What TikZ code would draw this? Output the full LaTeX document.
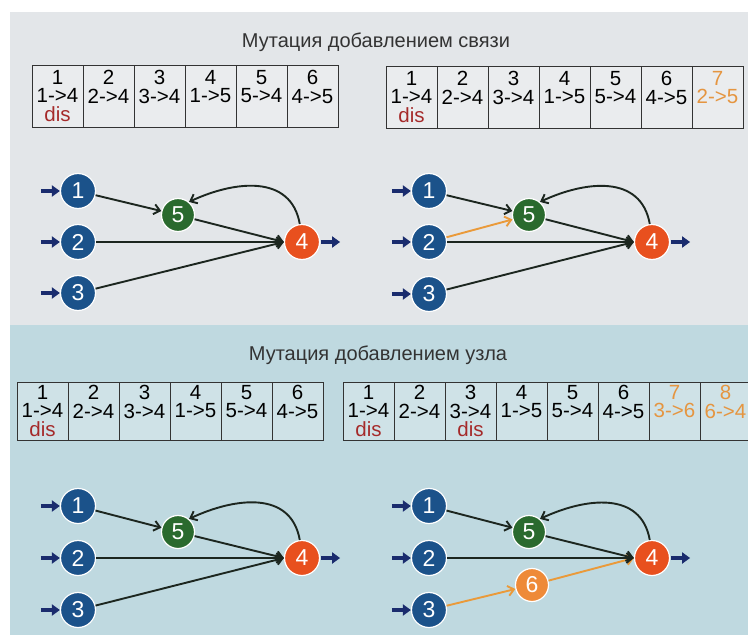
\documentclass[tikz,border=0pt]{standalone}
\usepackage{fontspec}
\setmainfont{Liberation Sans}
\usetikzlibrary{arrows.meta}
\definecolor{bgtop}{HTML}{E3E6E9}
\definecolor{bgbot}{HTML}{BFD9E0}
\definecolor{nblue}{HTML}{1B528A}
\definecolor{ngreen}{HTML}{2A6A2E}
\definecolor{nred}{HTML}{E8501E}
\definecolor{norange}{HTML}{EE8A38}
\definecolor{eorange}{HTML}{EA9A3A}
\definecolor{tor}{HTML}{E59540}
\definecolor{disred}{HTML}{A52A2A}
\definecolor{edgec}{HTML}{1C261F}
\definecolor{arrc}{HTML}{1A2C6E}
\newcommand\dis{\textcolor{disred}{dis}}
\newcommand\nodis{\phantom{dis}}
\tikzset{
 netnode/.style={circle, draw=white, line width=1.2pt, minimum size=35pt, inner sep=0pt, text=white, font=\fontsize{23}{23}\selectfont},
 bnode/.style={netnode, fill=nblue},
 gnode/.style={netnode, fill=ngreen, minimum size=33pt},
 rnode/.style={netnode, fill=nred},
 onode/.style={netnode, fill=norange, minimum size=33pt},
 conn/.style={draw=edgec, line width=1.9pt, -{Straight Barb[length=6pt,width=10pt]}},
 oconn/.style={conn, draw=eorange},
 ioarrow/.style={draw=arrc, line width=3.6pt, -{Triangle[length=8pt,width=11pt]}},
 cellbox/.style={draw=black!80, line width=1pt, fill=white, fill opacity=.25, text opacity=1, minimum width=51pt, inner sep=0pt, align=center, font=\fontsize{20.5}{18.5}\selectfont},
 topcell/.style={cellbox, minimum height=62pt},
 botcell/.style={cellbox, minimum height=58pt},
 title/.style={font=\fontsize{20}{20}\selectfont, text=black!80},
}
\begin{document}
\begin{tikzpicture}[x=1pt,y=-1pt]
\useasboundingbox (0,0) rectangle (748,635);
\fill[white] (0,0) rectangle (748,635);
\fill[bgtop] (10,12) rectangle (748,325);
\fill[bgbot] (10,325) rectangle (748,635);

% titles
\node[title] (t1) at (376,42) {Мутация добавлением связи};
\node[title] (t2) at (378,355) {Мутация добавлением узла};

% top-left table
\node[topcell] (a1) at (57.5,96) {1\\1->4\\\dis};
\node[topcell] (a2) at (108.5,96) {2\\2->4\\\nodis};
\node[topcell] (a3) at (159.5,96) {3\\3->4\\\nodis};
\node[topcell] (a4) at (210.5,96) {4\\1->5\\\nodis};
\node[topcell] (a5) at (261.5,96) {5\\5->4\\\nodis};
\node[topcell] (a6) at (312.5,96) {6\\4->5\\\nodis};

% top-right table
\node[topcell] (b1) at (411.5,97) {1\\1->4\\\dis};
\node[topcell] (b2) at (462.5,97) {2\\2->4\\\nodis};
\node[topcell] (b3) at (513.5,97) {3\\3->4\\\nodis};
\node[topcell] (b4) at (564.5,97) {4\\1->5\\\nodis};
\node[topcell] (b5) at (615.5,97) {5\\5->4\\\nodis};
\node[topcell] (b6) at (666.5,97) {6\\4->5\\\nodis};
\node[topcell, text=tor] (b7) at (717.5,97) {7\\2->5\\\nodis};

% bottom-left table
\node[botcell] (c1) at (42.5,411) {1\\1->4\\\dis};
\node[botcell] (c2) at (93.5,411) {2\\2->4\\\nodis};
\node[botcell] (c3) at (144.5,411) {3\\3->4\\\nodis};
\node[botcell] (c4) at (195.5,411) {4\\1->5\\\nodis};
\node[botcell] (c5) at (246.5,411) {5\\5->4\\\nodis};
\node[botcell] (c6) at (297.5,411) {6\\4->5\\\nodis};

% bottom-right table
\node[botcell] (d1) at (368.5,411) {1\\1->4\\\dis};
\node[botcell] (d2) at (419.5,411) {2\\2->4\\\nodis};
\node[botcell] (d3) at (470.5,411) {3\\3->4\\\dis};
\node[botcell] (d4) at (521.5,411) {4\\1->5\\\nodis};
\node[botcell] (d5) at (572.5,411) {5\\5->4\\\nodis};
\node[botcell] (d6) at (623.5,411) {6\\4->5\\\nodis};
\node[botcell, text=tor] (d7) at (674.5,411) {7\\3->6\\\nodis};
\node[botcell, text=tor] (d8) at (725.5,411) {8\\6->4\\\nodis};

% ---------- network top-left
\begin{scope}[shift={(0,0)}]
\node[bnode] (p1) at (78,191) {1};
\node[bnode] (p2) at (78,242) {2};
\node[bnode] (p3) at (78,293) {3};
\node[gnode] (p5) at (178,215) {5};
\node[rnode] (p4) at (302,242) {4};
\end{scope}
\draw[conn] (p1) -- (p5);
\draw[conn] (p2) -- (p4.west);
\draw[conn] (p3) -- (p4.west);
\draw[conn] (p5) -- (p4.west);
\draw[conn] (p4.97) to[out=100,in=25,looseness=1.15] (p5.50);
\foreach \n in {p1,p2,p3} \draw[ioarrow] ([xshift=-19pt]\n.west) -- (\n.west);
\draw[ioarrow] ([xshift=1pt]p4.east) -- ([xshift=20pt]p4.east);

% ---------- network top-right
\begin{scope}[shift={(351,0)}]
\node[bnode] (q1) at (78,191) {1};
\node[bnode] (q2) at (78,242) {2};
\node[bnode] (q3) at (78,294) {3};
\node[gnode] (q5) at (178,215) {5};
\node[rnode] (q4) at (301,242) {4};
\end{scope}
\draw[oconn] (q2) -- (q5);
\draw[conn] (q1) -- (q5);
\draw[conn] (q2) -- (q4.west);
\draw[conn] (q3) -- (q4.west);
\draw[conn] (q5) -- (q4.west);
\draw[conn] (q4.97) to[out=100,in=25,looseness=1.15] (q5.50);
\foreach \n in {q1,q2,q3} \draw[ioarrow] ([xshift=-19pt]\n.west) -- (\n.west);
\draw[ioarrow] ([xshift=1pt]q4.east) -- ([xshift=20pt]q4.east);

% ---------- network bottom-left
\begin{scope}[shift={(0,315)}]
\node[bnode] (r1) at (78,191) {1};
\node[bnode] (r2) at (78,243) {2};
\node[bnode] (r3) at (78,295) {3};
\node[gnode] (r5) at (178,217) {5};
\node[rnode] (r4) at (302,243) {4};
\end{scope}
\draw[conn] (r1) -- (r5);
\draw[conn] (r2) -- (r4.west);
\draw[conn] (r3) -- (r4.west);
\draw[conn] (r5) -- (r4.west);
\draw[conn] (r4.97) to[out=100,in=25,looseness=1.15] (r5.50);
\foreach \n in {r1,r2,r3} \draw[ioarrow] ([xshift=-19pt]\n.west) -- (\n.west);
\draw[ioarrow] ([xshift=1pt]r4.east) -- ([xshift=20pt]r4.east);

% ---------- network bottom-right
\begin{scope}[shift={(351,315)}]
\node[bnode] (s1) at (78,191) {1};
\node[bnode] (s2) at (78,243) {2};
\node[bnode] (s3) at (78,295) {3};
\node[gnode] (s5) at (178,217) {5};
\node[onode] (s6) at (181,270) {6};
\node[rnode] (s4) at (301,243) {4};
\end{scope}
\draw[oconn] (s3) -- (s6);
\draw[oconn] (s6) -- (s4.west);
\draw[conn] (s1) -- (s5);
\draw[conn] (s2) -- (s4.west);
\draw[conn] (s5) -- (s4.west);
\draw[conn] (s4.97) to[out=100,in=25,looseness=1.15] (s5.50);
\foreach \n in {s1,s2,s3} \draw[ioarrow] ([xshift=-19pt]\n.west) -- (\n.west);
\draw[ioarrow] ([xshift=1pt]s4.east) -- ([xshift=20pt]s4.east);
\end{tikzpicture}
\end{document}
